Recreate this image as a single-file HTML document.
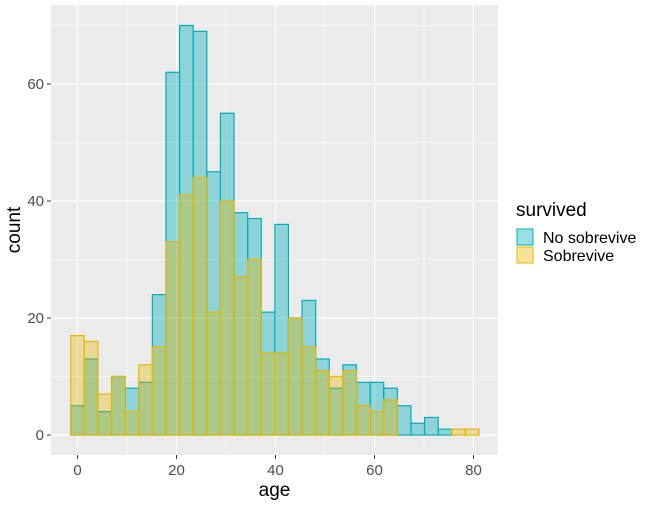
<!DOCTYPE html>
<html><head><style>body{margin:0;background:#fff}</style></head><body>
<svg width="648" height="504" xmlns="http://www.w3.org/2000/svg" font-family="Liberation Sans, sans-serif">
<rect x="51" y="5" width="447" height="450" fill="#EBEBEB"/>
<g stroke="#fff" stroke-width="0.6">
<line x1="51" x2="498" y1="376.5" y2="376.5"/><line x1="51" x2="498" y1="259.5" y2="259.5"/><line x1="51" x2="498" y1="142.5" y2="142.5"/><line x1="51" x2="498" y1="25.5" y2="25.5"/>
<line y1="5" y2="455" x1="127" x2="127"/><line y1="5" y2="455" x1="226" x2="226"/><line y1="5" y2="455" x1="325" x2="325"/><line y1="5" y2="455" x1="424" x2="424"/>
</g>
<g stroke="#fff" stroke-width="1.2">
<line x1="51" x2="498" y1="435" y2="435"/><line x1="51" x2="498" y1="318" y2="318"/><line x1="51" x2="498" y1="201" y2="201"/><line x1="51" x2="498" y1="84" y2="84"/>
<line y1="5" y2="455" x1="77.5" x2="77.5"/><line y1="5" y2="455" x1="176.5" x2="176.5"/><line y1="5" y2="455" x1="275.5" x2="275.5"/><line y1="5" y2="455" x1="374.5" x2="374.5"/><line y1="5" y2="455" x1="473.5" x2="473.5"/>
</g>
<g id="bars"></g>
<g font-size="15" fill="#4D4D4D" text-anchor="end">
<text x="44" y="440">0</text><text x="44" y="323">20</text><text x="44" y="206">40</text><text x="44" y="89">60</text>
</g>
<g stroke="#333" stroke-width="1"><line x1="47" x2="51" y1="435" y2="435"/><line x1="47" x2="51" y1="318" y2="318"/><line x1="47" x2="51" y1="201" y2="201"/><line x1="47" x2="51" y1="84" y2="84"/>
<line y1="455" y2="459" x1="77.5" x2="77.5"/><line y1="455" y2="459" x1="176.5" x2="176.5"/><line y1="455" y2="459" x1="275.5" x2="275.5"/><line y1="455" y2="459" x1="374.5" x2="374.5"/><line y1="455" y2="459" x1="473.5" x2="473.5"/></g>
<g font-size="15" fill="#4D4D4D" text-anchor="middle">
<text x="77.5" y="475">0</text><text x="176.5" y="475">20</text><text x="275.5" y="475">40</text><text x="374.5" y="475">60</text><text x="473.5" y="475">80</text>
</g>
<text x="274.5" y="496" font-size="19" text-anchor="middle">age</text>
<text transform="translate(20,230) rotate(-90)" font-size="19" text-anchor="middle">count</text>
<text x="516" y="216" font-size="19">survived</text>
<rect x="517" y="229" width="16" height="16" fill="#00AFBB" fill-opacity="0.4" stroke="#00AFBB"/>
<rect x="517" y="247" width="16" height="16" fill="#E7B800" fill-opacity="0.4" stroke="#E7B800"/>
<text x="543" y="243" font-size="16">No sobrevive</text>
<text x="543" y="261" font-size="16">Sobrevive</text>
</svg>
<script>
var t=[5,13,4,10,8,9,24,62,70,69,45,55,38,37,21,36,20,23,13,8,12,9,9,8,5,2,3,1,0,0];
var y=[17,16,7,10,4,12,15,33,41,44,21,40,27,30,14,14,20,15,11,10,11,5,4,6,0,0,0,0,1,1];
var g=document.getElementById('bars'),s='';
function d(a,c,o){for(var i=0;i<30;i++){if(!a[i])continue;var x=70.7+i*13.61,h=a[i]*5.85;s+='<rect x="'+x+'" y="'+(435-h)+'" width="13.61" height="'+h+'" fill="'+c+'" fill-opacity="'+o+'" stroke="'+c+'" stroke-width="1.2"/>';}}
d(t,'#00AFBB',0.4);d(y,'#E7B800',0.36);g.innerHTML=s;
</script>
</body></html>
